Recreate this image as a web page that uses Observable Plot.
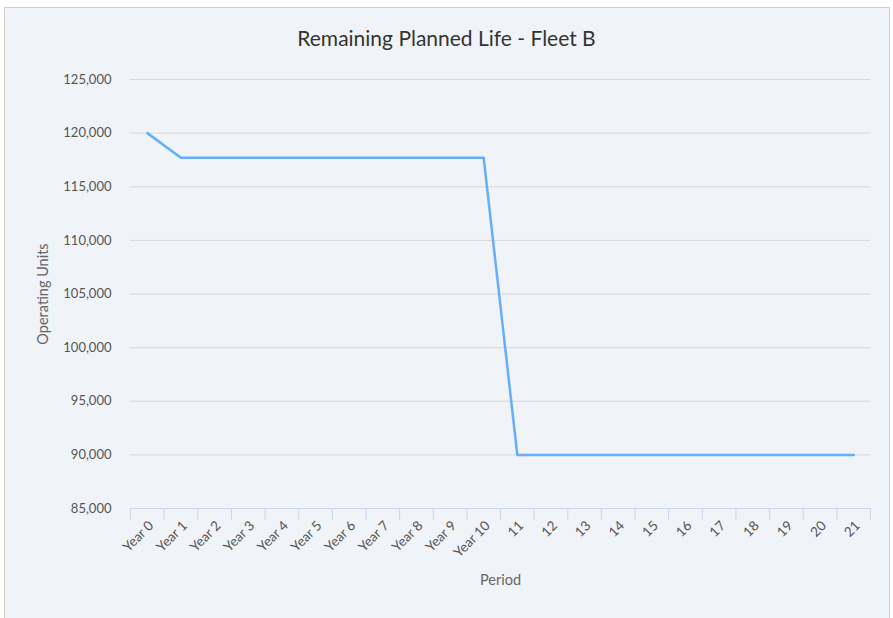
<!DOCTYPE html>
<html>
<head>
<meta charset="utf-8">
<script src="https://cdn.jsdelivr.net/npm/d3@7"></script>
<script src="https://cdn.jsdelivr.net/npm/@observablehq/plot@0.6"></script>
<style>
  html, body { margin: 0; padding: 0; background: #ffffff; }
  #frame { position: absolute; left: 4px; top: 7px; width: 884px; height: 620px; border: 1px solid #d0d0d0; background: #f0f3f7; }
  #title { position: absolute; left: 0; top: 25px; width: 893px; text-align: center; font-family: Lato, "Noto Sans", sans-serif; font-size: 21px; color: #333; }
  #chart { position: absolute; left: 0; top: 60px; }
</style>
</head>
<body>
<div id="frame"></div>
<div id="title">Remaining Planned Life - Fleet B</div>
<div id="chart"></div>
<script>
const categories = ["Year 0","Year 1","Year 2","Year 3","Year 4","Year 5","Year 6","Year 7","Year 8","Year 9","Year 10","11","12","13","14","15","16","17","18","19","20","21"];
const values = [120000,117700,117700,117700,117700,117700,117700,117700,117700,117700,117700,90000,90000,90000,90000,90000,90000,90000,90000,90000,90000,90000];
const yTicks = [85000,90000,95000,100000,105000,110000,115000,120000,125000];

const data = categories.map((c, i) => ({i, c, v: values[i]}));
const centers = categories.map((c, i) => i);
const bounds = d3.range(categories.length + 1).map(i => i - 0.5);
const fmt = d3.format(",");
const font = "Lato, 'Noto Sans', sans-serif";

const chart = Plot.plot({
  width: 893,
  height: 538,
  marginLeft: 130,
  marginRight: 23,
  marginTop: 19,
  marginBottom: 90,
  style: {fontFamily: font, fontSize: "13px", color: "#555", background: "transparent", overflow: "visible"},
  x: {type: "linear", domain: [-0.5, categories.length - 0.5]},
  y: {domain: [85000, 125000]},
  marks: [
    Plot.gridY(yTicks, {stroke: "#d8d8d8", strokeOpacity: 1}),
    Plot.axisY(yTicks, {tickSize: 0, tickPadding: 19, tickFormat: fmt, label: "Operating Units", labelArrow: "none", labelAnchor: "center", labelOffset: 93, fontSize: 13, fill: "#555"}),
    Plot.axisX(bounds, {tickSize: 12, tickFormat: () => "", stroke: "#ccd6eb", label: null}),
    Plot.axisX(centers, {tickSize: 0, tickPadding: 15, tickRotate: -45, dx: 4, tickFormat: i => categories[i], fontSize: 13.5, label: "Period", labelArrow: "none", labelAnchor: "center", labelOffset: 76, fill: "#555"}),
    Plot.ruleY([85000], {stroke: "#ccd6eb"}),
    Plot.line(data, {x: "i", y: "v", stroke: "#65aefc", strokeWidth: 2.5})
  ]
});
document.getElementById("chart").appendChild(chart);
d3.select(chart).selectAll("[aria-label='y-axis label'] text, [aria-label='x-axis label'] text").style("font-size", "14.5px").attr("fill", "#666");
</script>
</body>
</html>
